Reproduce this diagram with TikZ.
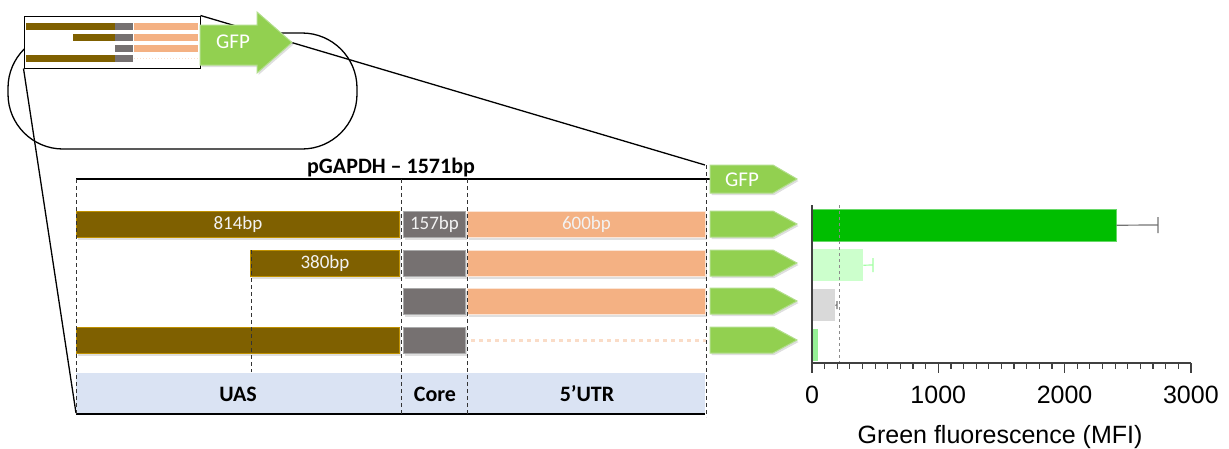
\documentclass[tikz,border=0pt]{standalone}
\usepackage{fontspec}
\setmainfont{Carlito}
\newfontfamily\chartfont{Liberation Sans}
\usetikzlibrary{shadows}
\usepackage{xcolor}
\definecolor{uasbrown}{RGB}{127,96,0}
\definecolor{uasedge}{RGB}{191,144,0}
\definecolor{coregrey}{RGB}{118,113,113}
\definecolor{coreedge}{RGB}{170,170,170}
\definecolor{utrsalmon}{RGB}{244,177,131}
\definecolor{utredge}{RGB}{251,229,214}
\definecolor{gfpgreen}{RGB}{146,208,80}
\definecolor{gfpedge}{RGB}{178,222,140}
\definecolor{regionblue}{RGB}{218,227,243}
\definecolor{barfull}{RGB}{0,190,0}
\definecolor{barshort}{RGB}{204,255,204}
\definecolor{barcore}{RGB}{217,217,217}
\definecolor{barnoutr}{RGB}{150,240,150}
\tikzset{
  dnabar/.style={
    draw,
    line width=1pt,
    anchor=north west,
    minimum height=26pt,
    inner sep=0pt,
    text=white!95!black,
    font=\fontsize{19}{19}\selectfont,
    drop shadow={opacity=0.25, shadow xshift=1.5pt, shadow yshift=-2pt}
  },
  uasbar/.style={dnabar, fill=uasbrown, draw=uasedge},
  corebar/.style={dnabar, fill=coregrey, draw=coreedge},
  utrbar/.style={dnabar, fill=utrsalmon, draw=utredge},
  gfpsig/.style={fill=gfpgreen, draw=gfpedge, line width=1pt,
    drop shadow={opacity=0.25, shadow xshift=1.5pt, shadow yshift=-2pt}},
  gfptext/.style={text=white, font=\fontsize{21}{21}\selectfont, inner sep=0pt},
  boldlabel/.style={font=\bfseries\fontsize{22}{22}\selectfont, anchor=base, inner sep=0pt},
  guide/.style={dash pattern=on 4pt off 3pt, line width=0.9pt, black!80},
  zoomline/.style={line width=1.3pt},
  chartbar/.style={anchor=north west, minimum height=32pt, inner sep=0pt},
  axisline/.style={line width=1.2pt, black!75},
  ticklabel/.style={font=\chartfont\fontsize{25}{25}\selectfont, anchor=base, inner sep=0pt},
}

\begin{document}
\begin{tikzpicture}[x=1pt, y=-1pt]
\useasboundingbox (0,0) rectangle (1229,448);

% Inset and zoom
\draw[zoomline, rounded corners=55pt] (8,33) rectangle (357,149);
\node[draw, fill=white, line width=1pt, minimum width=176pt, minimum height=52pt, inner sep=0pt] (inset) at (112,42) {};
\coordinate (regtop) at (705,165);
\coordinate (regbot) at (76,413);
\draw[zoomline] (inset.north east) -- (regtop);
\draw[zoomline] (inset.south west) -- (regbot);
\fill[uasbrown] (26,23) rectangle (115,30);
\fill[uasbrown] (73,34) rectangle (115,41);
\fill[uasbrown] (26,55) rectangle (115,62);
\foreach \yy in {23,34,45,55}
  \fill[coregrey] (115,\yy) rectangle (133,\yy+7);
\foreach \yy in {23,34,45}
  \fill[utrsalmon] (134,\yy) rectangle (198,\yy+7);
\draw[utrsalmon!40, dotted, line width=1pt] (134,58.5) -- (198,58.5);
\draw[gfpsig] (200,25) -- (257,25) -- (257,12) -- (292,42.5) -- (257,73) -- (257,65) -- (200,65) -- cycle;
\node[gfptext] (gfpbig) at (233,42) {GFP};

% Promoter region
\node[fill=regionblue, anchor=north west, minimum width=629pt, minimum height=41pt, inner sep=0pt] (region) at (76,373) {};
\node[boldlabel] (uaslab) at (238,401) {UAS};
\node[boldlabel] (corelab) at (435,401) {Core};
\node[boldlabel] (utrlab) at (587,401) {5’UTR};
\node[boldlabel] (title) at (391,173) {pGAPDH – 1571bp};

% Constructs
\node[uasbar, minimum width=323pt] (uasfull) at (76,211) {814bp};
\node[corebar, minimum width=62pt] (core1) at (403,211) {157bp};
\node[utrbar, minimum width=238pt] (utr1) at (467,211) {600bp};
\node[uasbar, minimum width=149pt] (uasshort) at (250,250) {380bp};
\node[corebar, minimum width=62pt] (core2) at (403,250) {};
\node[utrbar, minimum width=238pt] (utr2) at (467,250) {};
\node[corebar, minimum width=62pt] (core3) at (403,288) {};
\node[utrbar, minimum width=238pt] (utr3) at (467,288) {};
\node[uasbar, minimum width=323pt] (uas4) at (76,327) {};
\node[corebar, minimum width=62pt] (core4) at (403,327) {};
\draw[utrsalmon!45, line width=3pt, dash pattern=on 4pt off 4pt] (core4.east) ++(5,0) -- ++(235,0);

% Guides
\draw[line width=2pt] (76,179) -- (710,179);
\draw[line width=1.8pt] (76,414) -- (705,414);
\foreach \xx in {76,401,467}
  \draw[guide] (\xx,179) -- (\xx,416);
\draw[guide] (706,165) -- (706,417);
\draw[guide] (251,250) -- (251,372);

% GFP reporters
\draw[gfpsig] (710,165) -- ++(63,0) -- ++(24,14) -- ++(-24,14) -- ++(-63,0) -- cycle;
\node[gfptext] (gfptop) at (742,179.5) {GFP};
\foreach \yy in {211,250,288,327}
  \draw[gfpsig] (710,\yy) -- ++(63,0) -- ++(24,13) -- ++(-24,13) -- ++(-63,0) -- cycle;

% Fluorescence chart
\node[chartbar, fill=barfull, draw=barfull!60!white, minimum width=304pt] (mfifull) at (812,209) {};
\node[chartbar, fill=barshort, minimum width=51pt] (mfishort) at (812,249) {};
\node[chartbar, fill=barcore, minimum width=23pt] (mficore) at (812,289) {};
\node[chartbar, fill=barnoutr, minimum width=6pt] (mfinoutr) at (812,329) {};
\coordinate (errfull) at (1158,225);
\coordinate (errshort) at (873,265);
\coordinate (errcore) at (837,305);
\draw[line width=1.2pt, black!55] (mfifull.east) -- (errfull) ++(0,-8) -- ++(0,16);
\draw[line width=1.2pt, barshort!80!green] (mfishort.east) -- (errshort) ++(0,-7) -- ++(0,14);
\draw[line width=1.2pt, black!55] (mficore.east) -- (errcore) ++(0,-4) -- ++(0,8);
\draw[dashed, line width=0.8pt, black!45] (839,205) -- (839,363);
\draw[axisline] (812,205) -- (812,363) -- (1191,363);
\foreach \v in {0,100,...,3000}
  \draw[axisline] ({812+0.1263*\v},363) -- ++(0,6);
\foreach \v in {0,1000,2000,3000} {
  \draw[axisline] ({812+0.1263*\v},363) -- ++(0,10);
  \node[ticklabel] (tick\v) at ({812+0.1263*\v},403) {\v};
}
\node[ticklabel] (xlabel) at (1000,443) {Green fluorescence (MFI)};

\end{tikzpicture}
\end{document}
